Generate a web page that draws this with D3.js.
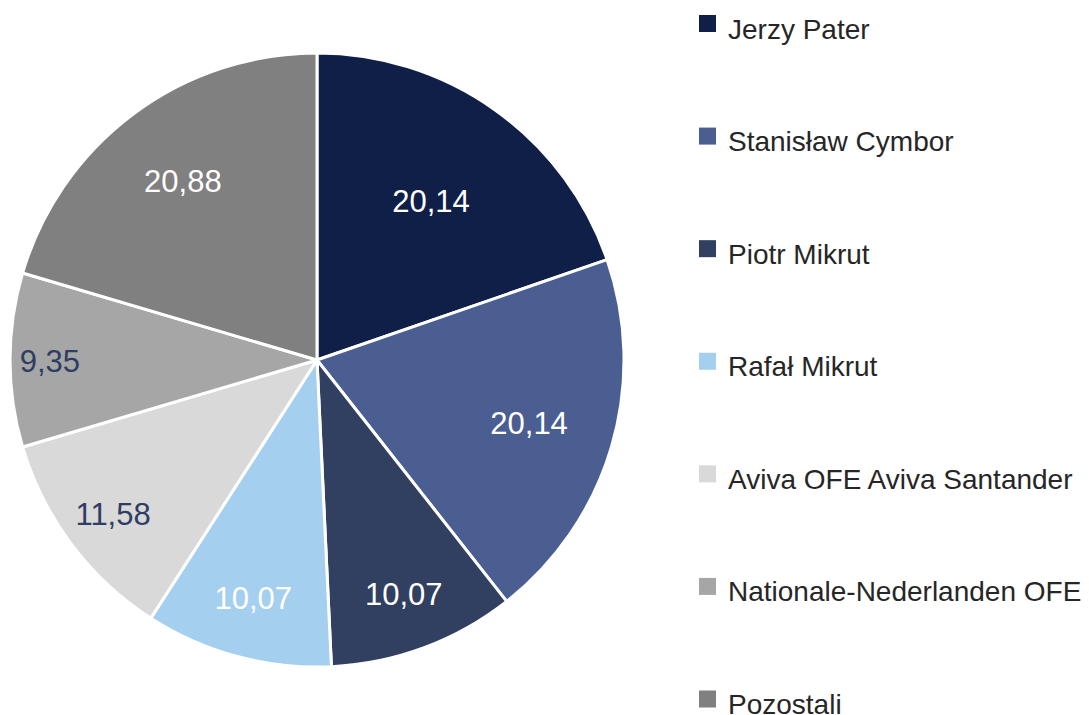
<!DOCTYPE html>
<html>
<head>
<meta charset="utf-8">
<script src="https://cdn.jsdelivr.net/npm/d3@7"></script>
<style>
  html, body { margin: 0; padding: 0; background: #ffffff; }
  svg { display: block; }
  text { font-family: "Liberation Sans", Arial, sans-serif; }
</style>
</head>
<body>
<svg id="chart" width="1089" height="715"></svg>
<script>
// Shareholders and their stakes (%)
const shareholders = [
  "Jerzy Pater",
  "Stanisław Cymbor",
  "Piotr Mikrut",
  "Rafał Mikrut",
  "Aviva OFE Aviva Santander",
  "Nationale-Nederlanden OFE",
  "Pozostali"
];
const stakes = [20.14, 20.14, 10.07, 10.07, 11.58, 9.35, 20.88];
const valueLabels = ["20,14", "20,14", "10,07", "10,07", "11,58", "9,35", "20,88"];

// Styling
const sliceColors = ["#0f1f48", "#4a5e92", "#313f61", "#a5cfee", "#d9d9d9", "#a6a6a6", "#808080"];
const labelColors = ["#ffffff", "#ffffff", "#ffffff", "#ffffff", "#2f3d63", "#2f3d63", "#ffffff"];
// distance of each value label from the centre, as a share of the radius
const labelRadiusShare = [0.64, 0.72, 0.81, 0.80, 0.83, 0.87, 0.73];

const svg = d3.select("#chart");
const cx = 317, cy = 360, radius = 307;

const pie = d3.pie().sort(null).value(d => d);
const arcs = pie(stakes);
const arc = d3.arc().innerRadius(0).outerRadius(radius);

const g = svg.append("g").attr("transform", `translate(${cx},${cy})`);

g.selectAll("path.slice")
  .data(arcs)
  .join("path")
  .attr("class", "slice")
  .attr("d", arc)
  .attr("fill", (d, i) => sliceColors[i])
  .attr("stroke", "#ffffff")
  .attr("stroke-width", 3)
  .attr("stroke-linejoin", "round");

g.selectAll("text.value")
  .data(arcs)
  .join("text")
  .attr("class", "value")
  .attr("transform", (d, i) => {
    const a = (d.startAngle + d.endAngle) / 2;
    const r = radius * labelRadiusShare[i];
    return `translate(${Math.sin(a) * r},${-Math.cos(a) * r})`;
  })
  .attr("text-anchor", "middle")
  .attr("dy", "0.38em")
  .attr("font-size", 31)
  .attr("fill", (d, i) => labelColors[i])
  .text((d, i) => valueLabels[i]);

// Legend
const legendY = d3.scalePoint()
  .domain(shareholders)
  .range([23.5, 699]);

const legend = svg.append("g");
const rows = legend.selectAll("g.row")
  .data(shareholders)
  .join("g")
  .attr("class", "row")
  .attr("transform", d => `translate(699,${legendY(d)})`);

rows.append("rect")
  .attr("x", 0)
  .attr("y", -8.5)
  .attr("width", 17)
  .attr("height", 17)
  .attr("fill", (d, i) => sliceColors[i]);

rows.append("text")
  .attr("x", 29)
  .attr("y", 15)
  .attr("font-size", 28)
  .attr("fill", "#262626")
  .text(d => d);
</script>
</body>
</html>
